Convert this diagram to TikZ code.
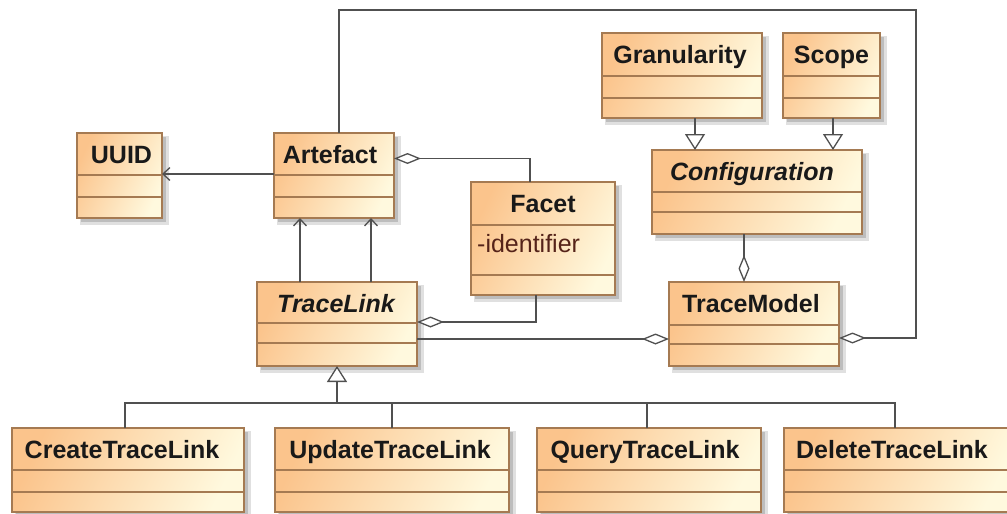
\documentclass[tikz,border=0pt]{standalone}
\usepackage{fontspec}
\setmainfont{Liberation Sans}
\usetikzlibrary{arrows.meta}
\definecolor{clsL}{RGB}{251,196,140}
\definecolor{clsR}{RGB}{255,249,222}
\definecolor{clsB}{RGB}{165,122,82}
\definecolor{lnC}{RGB}{80,80,80}
\definecolor{attrC}{RGB}{85,35,25}
\tikzset{
  clsbox/.style={draw=clsB, line width=1.2pt, top color=clsL, bottom color=clsR, shading angle=65,
    inner sep=0pt, outer sep=0pt, rectangle},
  sepline/.style={draw=clsB, line width=1.1pt},
  shadowA/.style={fill=black!12},
  shadowB/.style={fill=black!26},
  titletext/.style={inner sep=0pt, anchor=base, font=\fontsize{25}{30}\selectfont\bfseries, text=black!90},
  attrtext/.style={inner sep=0pt, anchor=base west, font=\fontsize{25}{30}\selectfont, text=attrC},
  conn/.style={draw=lnC, line width=1.3pt},
  assoc/.style={conn, -{Straight Barb[length=7pt, width=13pt]}},
  gen/.style={conn, -{Triangle[open, length=16pt, width=20pt, fill=white]}},
  agg/.style={conn, {Diamond[open, length=27pt, width=11pt, fill=white]}-},
}
% [#1 title xshift], #2 name, #3 x1, #4 y1, #5 x2, #6 y2, #7 first separator offset, #8 second separator offset, #9 title
\newcommand\umlcls[9][-3]{%
  \fill[shadowA] ({#3+3},{#4+3}) rectangle ({#5+7},{#6+7});
  \fill[shadowB] ({#3+4},{#4+4}) rectangle ({#5+4},{#6+4});
  \node[clsbox, minimum width={(#5-(#3))*1pt}, minimum height={(#6-(#4))*1pt}] (#2)
    at ({(#3+#5)/2},{(#4+#6)/2}) {};
  \draw[sepline] ([yshift=-#7pt]#2.north west) -- ([yshift=-#7pt]#2.north east);
  \draw[sepline] ([yshift=-#8pt]#2.north west) -- ([yshift=-#8pt]#2.north east);
  \node[titletext] (#2-t) at ([xshift=#1pt, yshift=-30pt]#2.north) {#9};
}
\begin{document}
\begin{tikzpicture}[x=1pt, y=-1pt]
  \useasboundingbox (0,0) rectangle (1007,514);
  \fill[white] (0,0) rectangle (1007,514);

  \umlcls[2]{uuid}{77}{133}{162}{218}{42}{64}{UUID}
  \umlcls[-4]{art}{274}{133}{394}{218}{42}{64}{Artefact}
  \umlcls[-2]{gran}{602}{33}{762}{118}{43}{65}{Granularity}
  \umlcls[0]{scope}{783}{33}{880}{118}{43}{65}{Scope}
  \umlcls[-5]{conf}{652}{150}{862}{234}{42}{62}{\itshape Configuration}
  \umlcls[0]{facet}{471}{182}{615}{295}{43}{93}{Facet}
  \node[attrtext] (facet-a) at ([xshift=6pt, yshift=-70pt]facet.north west) {-identifier};
  \umlcls[-1]{tl}{257}{282}{417}{366}{41}{61}{\itshape TraceLink}
  \umlcls[-3]{tm}{669}{282}{839}{366}{43}{62}{TraceModel}
  \umlcls[-6]{create}{12}{428}{244}{512}{42}{64}{CreateTraceLink}
  \umlcls[-2]{update}{275}{428}{509}{512}{42}{64}{UpdateTraceLink}
  \umlcls[-4]{query}{537}{428}{761}{512}{42}{64}{QueryTraceLink}
  \umlcls[-8]{delete}{784}{428}{1016}{512}{42}{64}{DeleteTraceLink}

  % associations
  \draw[assoc] ([yshift=1.5pt]art.west) -- ([yshift=1.5pt]art.west -| uuid.east);
  \draw[assoc] ([xshift=-37pt]tl.north) -- ([xshift=-37pt]tl.north |- art.south);
  \draw[assoc] ([xshift=34pt]tl.north) -- ([xshift=34pt]tl.north |- art.south);

  % aggregations
  \draw[agg] ([yshift=17pt]art.east) -| ([xshift=-13pt]facet.north);
  \draw[agg] ([yshift=2pt]tl.east) -| ([xshift=-7pt]facet.south);
  \draw[agg] ([yshift=-15pt]tm.west) -- ([yshift=-15pt]tm.west -| tl.east);
  \draw[agg] ([xshift=-10pt]tm.north) -- ([xshift=-10pt]tm.north |- conf.south);
  \coordinate (loopc) at (916,10);
  \draw[agg] ([yshift=-14pt]tm.east) -| (loopc) -| ([xshift=5pt]art.north);

  % generalizations
  \draw[gen] ([xshift=13pt]gran.south) -- ([xshift=13pt]gran.south |- conf.north);
  \draw[gen] ([xshift=1.5pt]scope.south) -- ([xshift=1.5pt]scope.south |- conf.north);
  \coordinate (bus) at (0,403);
  \coordinate (ctop) at ([xshift=-3pt]create.north);
  \coordinate (dtop) at ([xshift=-5pt]delete.north);
  \coordinate (qtop) at ([xshift=-2pt]query.north);
  \draw[conn] (ctop) |- (dtop |- bus) -- (dtop);
  \draw[conn] (update.north) -- (update.north |- bus);
  \draw[conn] (qtop) -- (qtop |- bus);
  \draw[gen] (tl.south |- bus) -- (tl.south);
\end{tikzpicture}
\end{document}
